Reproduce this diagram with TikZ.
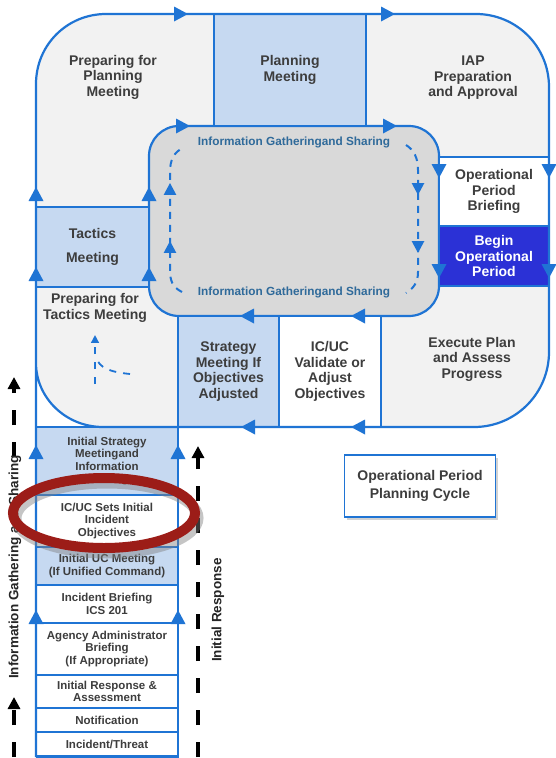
\documentclass[tikz,border=0pt]{standalone}
\usepackage{fontspec}
\setmainfont{Liberation Sans}
\usetikzlibrary{arrows.meta,shadows}

\definecolor{flowblue}{HTML}{1F74D4}
\definecolor{cellblue}{HTML}{C6D9F1}
\definecolor{paleground}{HTML}{F2F2F2}
\definecolor{hubgrey}{HTML}{D9D9D9}
\definecolor{startblue}{HTML}{2B31D6}
\definecolor{labelgrey}{HTML}{3D3D3D}
\definecolor{infoteal}{HTML}{2F6A9A}
\definecolor{ringred}{HTML}{9C1D18}

\newcommand\cellfont{\fontsize{14}{15.5}\selectfont\bfseries}
\newcommand\stemfont{\fontsize{11.5}{12.6}\selectfont\bfseries}
\newcommand\infofont{\fontsize{11.8}{13}\selectfont\bfseries}
\newcommand\sidefont{\fontsize{13.5}{15}\selectfont\bfseries}

\begin{document}
\begin{tikzpicture}[x=1pt,y=-1pt,
  flowline/.style={draw=flowblue,line width=2.2pt},
  cell/.style={draw=flowblue,line width=2pt,rectangle,inner sep=0pt,align=center,font=\cellfont,text=labelgrey},
  label/.style={align=center,font=\cellfont,text=labelgrey,inner sep=0pt},
  stembox/.style={draw=flowblue,line width=1.6pt,rectangle,minimum width=142pt,inner sep=0pt,align=center,font=\stemfont,text=labelgrey},
  infotext/.style={font=\infofont,text=infoteal,inner sep=0pt},
  hubdash/.style={draw=flowblue,line width=2pt,dash pattern=on 7pt off 6pt},
  phasearrow/.style={draw=black,line width=4pt,dash pattern=on 15pt off 17pt,-{Triangle[width=12pt,length=12pt]}},
  sidetext/.style={rotate=90,font=\sidefont,text=black!85,inner sep=0pt},
  tri up/.pic={\fill[flowblue] (-7.5,7) -- (7.5,7) -- (0,-7) -- cycle;},
  tri down/.pic={\fill[flowblue] (-7.5,-7) -- (7.5,-7) -- (0,7) -- cycle;},
  tri right/.pic={\fill[flowblue] (-7,-7.5) -- (-7,7.5) -- (7,0) -- cycle;},
  tri left/.pic={\fill[flowblue] (7,-7.5) -- (7,7.5) -- (-7,0) -- cycle;}
]
\useasboundingbox (0,0) rectangle (556,758);
\fill[white] (0,0) rectangle (556,758);

% ground of the planning cycle
\fill[paleground] (36,363) -- (36,84) .. controls (36,45) and (67,14) .. (106,14)
  -- (476,14) .. controls (516,14) and (549,46) .. (549,87)
  -- (549,352) .. controls (549,393) and (516,427) .. (474,427)
  -- (103,427) .. controls (66,427) and (36,398) .. (36,363) -- cycle;

% central information hub
\draw[flowline,fill=hubgrey,rounded corners=30pt] (149,126) rectangle (439,316);

% cycle cells
\node[cell,fill=cellblue,minimum width=152pt,minimum height=112pt] (plan) at (290,70) {Planning\\Meeting};
\node[cell,fill=cellblue,minimum width=113pt,minimum height=80pt] (tactics) at (92.5,247) {Tactics\\[8pt]Meeting};
\node[cell,fill=white,minimum width=110pt,minimum height=69pt] (briefing) at (494,191.5) {Operational\\Period\\Briefing};
\node[cell,fill=startblue,text=white,minimum width=110pt,minimum height=60pt] (begin) at (494,256) {Begin\\Operational\\Period};
\node[cell,fill=cellblue,minimum width=101pt,minimum height=111pt] (strategy) at (228.5,371.5) {Strategy\\Meeting If\\Objectives\\Adjusted};
\node[cell,fill=white,minimum width=102pt,minimum height=111pt] (validate) at (330,371.5) {IC/UC\\Validate or\\Adjust\\Objectives};

% initial response stem
\node[stembox,fill=cellblue,minimum height=68pt] (s1) at (107,461) {Initial Strategy\\Meetingand\\Information\\Sharing};
\node[stembox,fill=white,minimum height=52pt] (s2) at (107,521) {IC/UC Sets Initial\\Incident\\Objectives};
\node[stembox,fill=cellblue,minimum height=38pt] (s3) at (107,566) {Initial UC Meeting\\(If Unified Command)};
\node[stembox,fill=white,minimum height=38pt] (s4) at (107,604) {Incident Briefing\\ICS 201};
\node[stembox,fill=white,minimum height=52pt] (s5) at (107,649) {Agency Administrator\\Briefing\\(If Appropriate)};
\node[stembox,fill=white,minimum height=33pt] (s6) at (107,691.5) {Initial Response \&\\Assessment};
\node[stembox,fill=white,minimum height=24pt] (s7) at (107,720) {Notification};
\node[stembox,fill=white,minimum height=24pt] (s8) at (107,744) {Incident/Threat};

% outline of the cycle and stem
\draw[flowline] (36,757) -- (36,84) .. controls (36,45) and (67,14) .. (106,14)
  -- (476,14) .. controls (516,14) and (549,46) .. (549,87)
  -- (549,352) .. controls (549,393) and (516,427) .. (474,427)
  -- (103,427) .. controls (66,427) and (36,398) .. (36,363);
\draw[flowline] (178,316) -- (178,757) -- (36,757);

% flow direction marks
\foreach \p in {(36,194),(149,194),(36,274),(149,274),(36,452),(178,452),(36,617),(178,617)}
  \pic at \p {tri up};
\foreach \p in {(181,14),(388,14),(183,126),(390,126)}
  \pic at \p {tri right};
\foreach \p in {(439,171),(549,171),(439,271),(549,271)}
  \pic at \p {tri down};
\foreach \p in {(247,316),(358,316),(248,427),(358,427)}
  \pic at \p {tri left};

% dashed circulation inside the hub
\draw[hubdash] (182,292) .. controls (172,287) and (170,280) .. (170,270) -- (170,172) .. controls (170,160) and (174,152) .. (183,148);
\draw[hubdash] (406,145) .. controls (414,150) and (418,158) .. (418,170) -- (418,272) .. controls (418,282) and (414,288) .. (406,293);
\pic[scale=0.85] at (170,189) {tri up};
\pic[scale=0.85] at (170,247) {tri up};
\pic[scale=0.85] at (418,189) {tri down};
\pic[scale=0.85] at (418,247) {tri down};
\node[infotext] (infotop) at (294,142) {Information Gatheringand Sharing};
\node[infotext] (infobottom) at (294,292) {Information Gatheringand Sharing};

% merging arrows in the tactics preparation area
\draw[hubdash,line width=1.8pt,dash pattern=on 7pt off 8pt] (95,384) -- (95,343);
\draw[hubdash,line width=1.8pt,dash pattern=on 7pt off 7pt] (130,374) .. controls (110,372) and (99,368) .. (96,357);
\pic[scale=0.55] at (95,339) {tri up};

% free labels of the cycle
\node[label] (prepplan) at (113,77) {Preparing for\\Planning\\Meeting};
\node[label] (iap) at (473,78) {IAP\\Preparation\\and Approval};
\node[label] (execute) at (472,359) {Execute Plan\\and Assess\\Progress};
\node[label] (preptactics) at (95,308) {Preparing for\\Tactics Meeting};

% phase arrows beside the stem
\coordinate (igslowstart) at (14,757);
\coordinate (igslowtip) at (14,697);
\coordinate (igshighstart) at (14,457);
\coordinate (igshightip) at (14,377);
\coordinate (irstart) at (198,757);
\coordinate (irtip) at (198,446);
\draw[phasearrow] (igslowstart) -- (igslowtip);
\draw[phasearrow] (igshighstart) -- (igshightip);
\draw[phasearrow] (irstart) -- (irtip);
\node[sidetext] (igs) at (15,567) {Information Gathering and Sharing};
\node[sidetext] (ir) at (218,610) {Initial Response};

% highlight ring
\draw[line width=11pt,black!50,opacity=0.45] (107,518) ellipse [x radius=91, y radius=35];
\draw[line width=10pt,ringred] (104,513) ellipse [x radius=91, y radius=35];

% caption box
\node[draw=flowblue,line width=1.8pt,fill=white,minimum width=151pt,minimum height=62pt,
  drop shadow={shadow xshift=2pt,shadow yshift=-3pt,opacity=0.35},
  align=center,font=\fontsize{14}{17.5}\selectfont\bfseries,text=labelgrey] (cyclebox) at (420,486)
  {Operational Period\\Planning Cycle};
\end{tikzpicture}
\end{document}
